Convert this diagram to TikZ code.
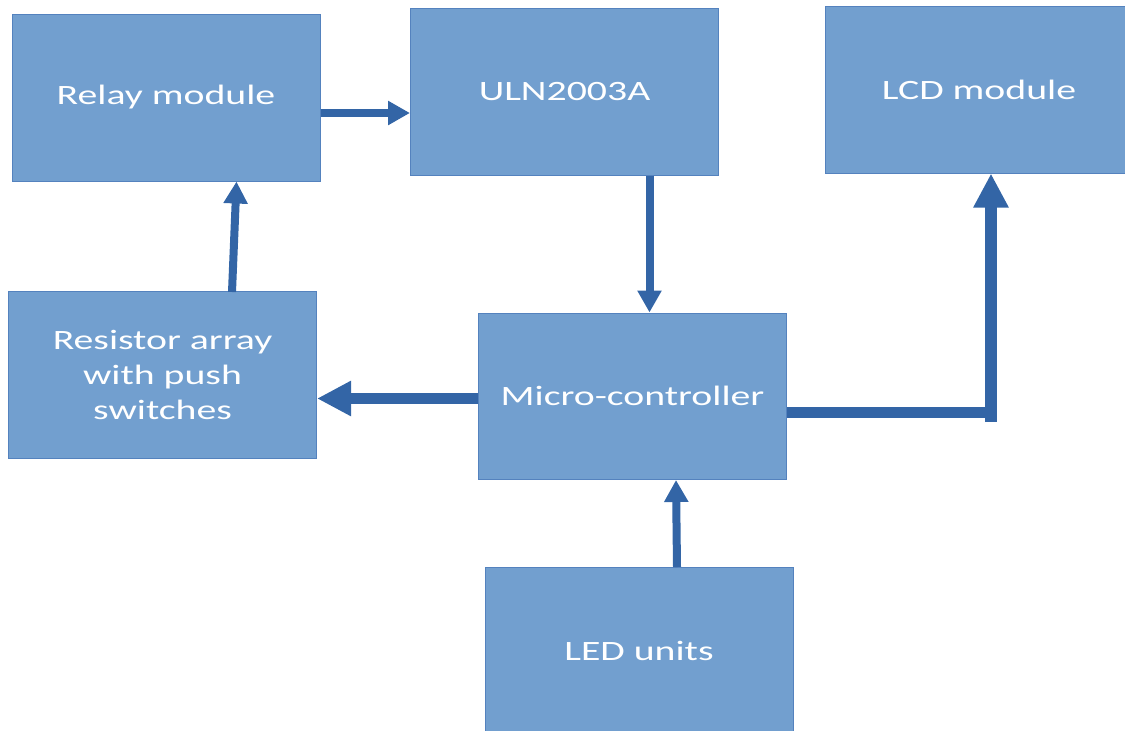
\documentclass[tikz,border=0pt]{standalone}
\usepackage{fontspec}
\setmainfont{Carlito}[FakeStretch=1.42]
\usepackage{xcolor}
\usetikzlibrary{arrows.meta, positioning, calc}
\definecolor{boxblue}{RGB}{114, 159, 207}
\definecolor{boxedge}{RGB}{84, 130, 190}
\definecolor{linkblue}{RGB}{51, 101, 166}

\begin{document}
\begin{tikzpicture}[x=1pt, y=-1pt,
    block/.style={draw=boxedge, line width=1pt, fill=boxblue, text=white,
        minimum width=308pt, minimum height=167pt, inner sep=0pt,
        font=\fontsize{28}{35}\selectfont, align=center},
    link/.style={linkblue, line width=8pt,
        -{Triangle[length=22pt, width=23pt]}},
    biglink/.style={linkblue, line width=11.5pt,
        -{Triangle[length=34pt, width=33pt]}}]
    \useasboundingbox (0,0) rectangle (1125,731);

    % Blocks
    \node[block] (relay) at (166,97.5) {Relay module};
    \node[block] (uln) at (564.5,91.5) {ULN2003A};
    \node[block] (lcd) at (979,89.5) {LCD module};
    \node[block] (res) at (162.5,374.5) {Resistor array\\with push\\switches};
    \node[block, minimum height=166pt] (mcu) at (632.5,396) {Micro-controller};
    \node[block] (led) at (639,650.5) {LED units};

    % Helper points
    \coordinate (resTop) at (232,292);
    \coordinate (relayIn) at (236.5,181.5);
    \coordinate (ledTop) at (677,567);
    \coordinate (mcuIn) at (676,480);
    \coordinate (bend) at (991,412);
    \coordinate (bendLow) at (991,422);

    % Connectors
    \draw[link] (relay.east |- 0,113) -- (uln.west |- 0,113);
    \draw[link] (uln.south -| 649.5,0) -- (mcu.north -| 649.5,0);
    \draw[link] (resTop) -- (relayIn);
    \draw[link] (ledTop) -- (mcuIn);
    \draw[biglink] (mcu.west |- 0,398.5) -- (res.east |- 0,398.5);
    \draw[linkblue, line width=11pt] (mcu.east |- bend) -- ($(bend)+(5.5,0)$);
    \draw[biglink] (bendLow) -- (lcd.south -| bend);
\end{tikzpicture}
\end{document}
